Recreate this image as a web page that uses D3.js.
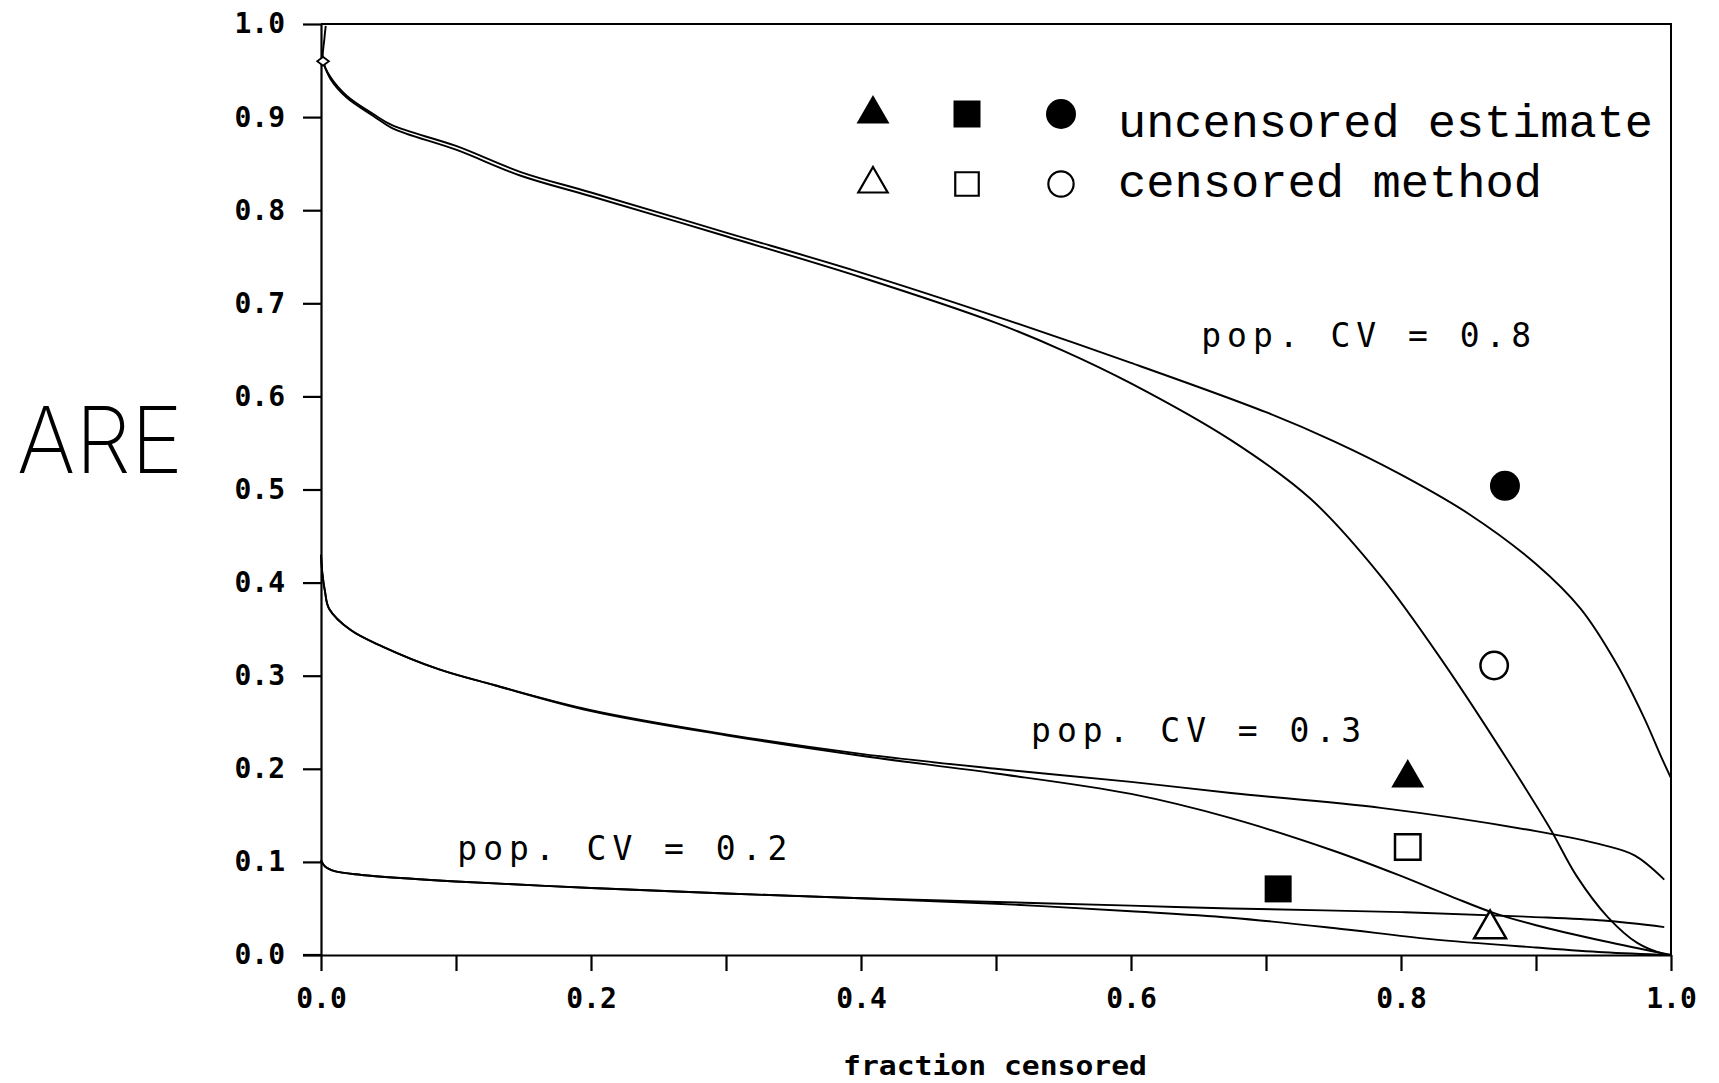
<!DOCTYPE html>
<html>
<head>
<meta charset="utf-8">
<script src="https://cdn.jsdelivr.net/npm/d3@7"></script>
<style>
  html, body { margin: 0; padding: 0; background: #fff; }
  svg { display: block; }
</style>
</head>
<body>
<svg id="chart" width="1719" height="1083"></svg>
<script>
// ---------- DATA ----------
const xTicks = [0, 0.1, 0.2, 0.3, 0.4, 0.5, 0.6, 0.7, 0.8, 0.9, 1.0];
const xTickLabels = ["0.0", "", "0.2", "", "0.4", "", "0.6", "", "0.8", "", "1.0"];
const yTicks = [0, 0.1, 0.2, 0.3, 0.4, 0.5, 0.6, 0.7, 0.8, 0.9, 1.0];
const yTickLabels = ["0.0", "0.1", "0.2", "0.3", "0.4", "0.5", "0.6", "0.7", "0.8", "0.9", "1.0"];

// pop. CV = 0.8 (two curves)
const cv08aX = [0.0035, 0.0025, 0.0015, 0.007, 0.019, 0.039, 0.053, 0.1, 0.148, 0.2, 0.3, 0.4, 0.5, 0.6, 0.7, 0.75, 0.8, 0.85, 0.9, 0.933, 0.96, 0.98, 0.993, 1.0];
const cv08aY = [0.998, 0.984, 0.96, 0.943, 0.923, 0.903, 0.891, 0.869, 0.841, 0.819, 0.776, 0.733, 0.686, 0.636, 0.583, 0.552, 0.516, 0.474, 0.42, 0.372, 0.312, 0.255, 0.212, 0.19];
const cv08bX = [0.0015, 0.007, 0.019, 0.039, 0.053, 0.1, 0.148, 0.2, 0.3, 0.4, 0.5, 0.55, 0.6, 0.674, 0.733, 0.785, 0.832, 0.88, 0.91, 0.93, 0.953, 0.975, 0.995, 1.0];
const cv08bY = [0.96, 0.941, 0.921, 0.901, 0.888, 0.865, 0.837, 0.815, 0.772, 0.728, 0.679, 0.649, 0.614, 0.553, 0.49, 0.407, 0.313, 0.207, 0.137, 0.085, 0.041, 0.013, 0.001, 0.0];

// pop. CV = 0.3 (two curves)
const cv03aX = [0.0, 0.001, 0.003, 0.006, 0.022, 0.046, 0.087, 0.128, 0.2, 0.3, 0.4, 0.5, 0.6, 0.674, 0.785, 0.9, 0.95, 0.973, 0.995];
const cv03aY = [0.43, 0.41, 0.39, 0.372, 0.349, 0.331, 0.307, 0.29, 0.263, 0.237, 0.216, 0.2, 0.186, 0.174, 0.158, 0.133, 0.118, 0.107, 0.081];
const cv03bX = [0.0, 0.001, 0.003, 0.006, 0.022, 0.046, 0.087, 0.128, 0.2, 0.3, 0.4, 0.5, 0.6, 0.674, 0.75, 0.798, 0.837, 0.869, 0.9, 0.95, 1.0];
const cv03bY = [0.43, 0.41, 0.39, 0.372, 0.349, 0.331, 0.307, 0.29, 0.262, 0.236, 0.214, 0.195, 0.173, 0.147, 0.112, 0.086, 0.063, 0.045, 0.032, 0.015, 0.0];

// pop. CV = 0.2 (two curves)
const cv02aX = [0.0, 0.003, 0.01, 0.03, 0.1, 0.2, 0.3, 0.4, 0.5, 0.6, 0.674, 0.8, 0.896, 0.95, 0.995];
const cv02aY = [0.102, 0.095, 0.09, 0.086, 0.079, 0.072, 0.066, 0.061, 0.057, 0.053, 0.05, 0.046, 0.041, 0.037, 0.03];
const cv02bX = [0.0, 0.003, 0.01, 0.03, 0.1, 0.2, 0.3, 0.4, 0.5, 0.6, 0.674, 0.75, 0.822, 0.9, 0.95, 1.0];
const cv02bY = [0.102, 0.095, 0.09, 0.086, 0.079, 0.072, 0.066, 0.061, 0.055, 0.047, 0.04, 0.029, 0.017, 0.008, 0.003, 0.0];

// markers
const uncensoredX = [0.805, 0.709, 0.877];   // triangle, square, circle
const uncensoredY = [0.19, 0.071, 0.504];
const censoredX = [0.866, 0.805, 0.869];
const censoredY = [0.028, 0.116, 0.311];
const markerShapes = ["triangle", "square", "circle"];
const startPointX = [0.0015];
const startPointY = [0.96];

// curve labels
const labelTexts = ["pop. CV = 0.8", "pop. CV = 0.3", "pop. CV = 0.2"];
const labelX = [0.652, 0.526, 0.101];
const labelY = [0.653, 0.229, 0.102];

const legendLabels = ["uncensored estimate", "censored method"];

// ---------- LAYOUT ----------
const svg = d3.select("#chart");
const X0 = 321, X1 = 1671, Y0 = 955, Y1 = 24;
const x = d3.scaleLinear().domain([0, 1]).range([X0, X1]);
const y = d3.scaleLinear().domain([0, 1]).range([Y0, Y1]);

svg.append("rect").attr("width", 1719).attr("height", 1083).attr("fill", "#fff");

// frame (top & right)
svg.append("path")
  .attr("d", `M${x(0)},${y(1)}H${x(1)}V${y(0)}`)
  .attr("fill", "none").attr("stroke", "#000").attr("stroke-width", 2);

const tickFont = "'DejaVu Sans Mono', monospace";

const xAxis = d3.axisBottom(x).tickValues(xTicks)
  .tickFormat((d, i) => xTickLabels[i]).tickSizeInner(16).tickSizeOuter(0).tickPadding(17);
const gx = svg.append("g").attr("transform", `translate(0,${Y0})`).call(xAxis);
gx.selectAll("line, path").attr("stroke", "#000").attr("stroke-width", 2.2);
gx.selectAll("text").attr("font-family", tickFont).attr("font-size", 28).attr("font-weight", "bold").attr("fill", "#000");
gx.append("line").attr("x1", X0 - 18).attr("x2", X0).attr("y1", 0).attr("y2", 0).attr("stroke", "#000").attr("stroke-width", 2.2);

const yAxis = d3.axisLeft(y).tickValues(yTicks)
  .tickFormat((d, i) => yTickLabels[i]).tickSizeInner(18).tickSizeOuter(0).tickPadding(18);
const gy = svg.append("g").attr("transform", `translate(${X0},0)`).call(yAxis);
gy.selectAll("line, path").attr("stroke", "#000").attr("stroke-width", 2.2);
gy.selectAll("text").attr("font-family", tickFont).attr("font-size", 28).attr("font-weight", "bold").attr("fill", "#000");

// ---------- CURVES ----------
const line = d3.line().x(d => x(d[0])).y(d => y(d[1])).curve(d3.curveCatmullRom.alpha(0.5));
const series = [
  [cv08aX, cv08aY], [cv08bX, cv08bY],
  [cv03aX, cv03aY], [cv03bX, cv03bY],
  [cv02aX, cv02aY], [cv02bX, cv02bY]
];
svg.append("g").selectAll("path").data(series).join("path")
  .attr("d", s => line(s[0].map((v, i) => [v, s[1][i]])))
  .attr("fill", "none").attr("stroke", "#000").attr("stroke-width", 1.9)
  .attr("stroke-linejoin", "round");

// ---------- MARKERS ----------
const symType = { triangle: d3.symbolTriangle, square: d3.symbolSquare, circle: d3.symbolCircle };
const symSizeFilled = { triangle: 470, square: 729, circle: 707 };
const symSizeOpen = { triangle: 440, square: 650, circle: 590 };

svg.append("g").selectAll("path").data(uncensoredX).join("path")
  .attr("transform", (d, i) => `translate(${x(d)},${y(uncensoredY[i])})`)
  .attr("d", (d, i) => d3.symbol(symType[markerShapes[i]], symSizeFilled[markerShapes[i]])())
  .attr("fill", "#000");

svg.append("g").selectAll("path").data(censoredX).join("path")
  .attr("transform", (d, i) => `translate(${x(d)},${y(censoredY[i])})`)
  .attr("d", (d, i) => d3.symbol(symType[markerShapes[i]], symSizeOpen[markerShapes[i]])())
  .attr("fill", "#fff").attr("stroke", "#000").attr("stroke-width", 2.5);

const diamondType = d3.symbolDiamond2 || d3.symbolDiamond;
svg.append("g").selectAll("path").data(startPointX).join("path")
  .attr("transform", (d, i) => `translate(${x(d)},${y(startPointY[i])}) scale(1.2,0.9)`)
  .attr("d", d3.symbol(diamondType, 60)())
  .attr("fill", "#fff").attr("stroke", "#000").attr("stroke-width", 1.8);

// ---------- CURVE LABELS ----------
const textFont = "'DejaVu Sans Mono', monospace";
svg.append("g").selectAll("text").data(labelTexts).join("text")
  .attr("x", (d, i) => x(labelX[i])).attr("y", (d, i) => y(labelY[i]))
  .attr("font-family", textFont).attr("font-size", 33)
  .attr("textLength", 330).attr("lengthAdjust", "spacing")
  .attr("fill", "#000").text(d => d);

// ---------- LEGEND ----------
const legX = [873, 967, 1061];
const legY = [114, 184];
const leg = svg.append("g");
leg.selectAll("path.f").data(markerShapes).join("path").attr("class", "f")
  .attr("transform", (d, i) => `translate(${legX[i]},${legY[0]})`)
  .attr("d", d => d3.symbol(symType[d], symSizeFilled[d])())
  .attr("fill", "#000");
leg.selectAll("path.o").data(markerShapes).join("path").attr("class", "o")
  .attr("transform", (d, i) => `translate(${legX[i]},${legY[1]})`)
  .attr("d", d => d3.symbol(symType[d], symSizeOpen[d] * 0.85)())
  .attr("fill", "#fff").attr("stroke", "#000").attr("stroke-width", 2.2);
leg.selectAll("text").data(legendLabels).join("text")
  .attr("x", 1118).attr("y", (d, i) => [137, 197][i])
  .attr("font-family", "'Liberation Mono', 'DejaVu Sans Mono', monospace").attr("font-size", 46)
  .attr("textLength", (d, i) => [535, 424][i]).attr("lengthAdjust", "spacingAndGlyphs")
  .attr("fill", "#000").text(d => d);

// ---------- AXIS TITLES ----------
svg.append("text").attr("x", 995).attr("y", 1075).attr("text-anchor", "middle")
  .attr("font-family", tickFont).attr("font-size", 26).attr("font-weight", "bold")
  .attr("textLength", 304).attr("lengthAdjust", "spacingAndGlyphs")
  .attr("fill", "#000").text("fraction censored");

svg.append("text").attr("x", 17).attr("y", 473)
  .attr("font-family", "Inter, Lato, sans-serif").attr("font-size", 92).attr("font-weight", 200)
  .attr("textLength", 166).attr("lengthAdjust", "spacingAndGlyphs")
  .attr("fill", "#000").text("ARE");
</script>
</body>
</html>
